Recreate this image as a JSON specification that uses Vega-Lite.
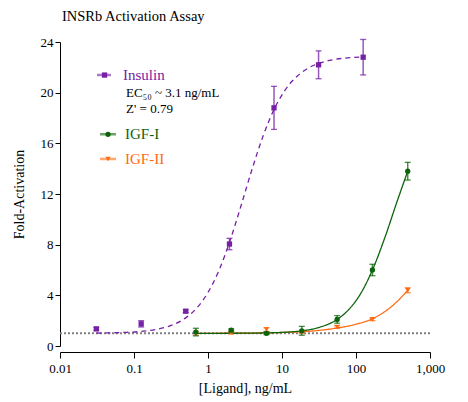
{
  "$schema": "https://vega.github.io/schema/vega-lite/v6.json",
  "autosize": "none",
  "width": 370,
  "height": 304,
  "padding": {"left": 60, "top": 42, "right": 38, "bottom": 56},
  "title": {"text": "INSRb Activation Assay", "anchor": "start", "frame": "group", "font": "Liberation Serif", "fontSize": 14.5, "fontWeight": "normal", "color": "#000000", "offset": 12, "dx": 2},
  "config": {
    "view": {"stroke": null},
    "font": "Liberation Serif",
    "axis": {"labelFont": "Liberation Serif", "titleFont": "Liberation Serif", "labelColor": "#000", "titleColor": "#000", "tickColor": "#000", "domainColor": "#000", "titleFontWeight": "normal", "grid": false},
    "text": {"font": "Liberation Serif"}
  },
  "datasets": {
    "pts": [
      {"series": "Insulin", "conc": 0.031, "fold": 1.35, "err": 0.12},
      {"series": "Insulin", "conc": 0.125, "fold": 1.75, "err": 0.25},
      {"series": "Insulin", "conc": 0.5, "fold": 2.75, "err": 0.12},
      {"series": "Insulin", "conc": 1.95, "fold": 8.05, "err": 0.45},
      {"series": "Insulin", "conc": 7.8, "fold": 18.8, "err": 1.7},
      {"series": "Insulin", "conc": 31.2, "fold": 22.2, "err": 1.1},
      {"series": "Insulin", "conc": 125, "fold": 22.8, "err": 1.4},
      {"series": "IGF-II", "conc": 0.686, "fold": 1.0, "err": 0.15},
      {"series": "IGF-II", "conc": 2.06, "fold": 1.05, "err": 0.1},
      {"series": "IGF-II", "conc": 6.17, "fold": 1.3, "err": 0.15},
      {"series": "IGF-II", "conc": 18.5, "fold": 1.1, "err": 0.1},
      {"series": "IGF-II", "conc": 55.6, "fold": 1.5, "err": 0.1},
      {"series": "IGF-II", "conc": 166.7, "fold": 2.1, "err": 0.1},
      {"series": "IGF-II", "conc": 500, "fold": 4.4, "err": 0.2},
      {"series": "IGF-I", "conc": 0.686, "fold": 1.1, "err": 0.3},
      {"series": "IGF-I", "conc": 2.06, "fold": 1.25, "err": 0.1},
      {"series": "IGF-I", "conc": 6.17, "fold": 1.0, "err": 0.1},
      {"series": "IGF-I", "conc": 18.5, "fold": 1.2, "err": 0.35},
      {"series": "IGF-I", "conc": 55.6, "fold": 2.1, "err": 0.3},
      {"series": "IGF-I", "conc": 166.7, "fold": 6.0, "err": 0.45},
      {"series": "IGF-I", "conc": 500, "fold": 13.8, "err": 0.7}
    ],
    "curves": [
      {"series": "Insulin", "conc": 0.031, "fold": 1.02},
      {"series": "Insulin", "conc": 0.05, "fold": 1.04},
      {"series": "Insulin", "conc": 0.08, "fold": 1.08},
      {"series": "Insulin", "conc": 0.125, "fold": 1.15},
      {"series": "Insulin", "conc": 0.2, "fold": 1.31},
      {"series": "Insulin", "conc": 0.3, "fold": 1.57},
      {"series": "Insulin", "conc": 0.5, "fold": 2.22},
      {"series": "Insulin", "conc": 0.7, "fold": 2.98},
      {"series": "Insulin", "conc": 1, "fold": 4.23},
      {"series": "Insulin", "conc": 1.4, "fold": 5.94},
      {"series": "Insulin", "conc": 2, "fold": 8.37},
      {"series": "Insulin", "conc": 2.8, "fold": 11.09},
      {"series": "Insulin", "conc": 4, "fold": 14.08},
      {"series": "Insulin", "conc": 5.6, "fold": 16.64},
      {"series": "Insulin", "conc": 8, "fold": 18.8},
      {"series": "Insulin", "conc": 11, "fold": 20.2},
      {"series": "Insulin", "conc": 16, "fold": 21.3},
      {"series": "Insulin", "conc": 22, "fold": 21.9},
      {"series": "Insulin", "conc": 32, "fold": 22.33},
      {"series": "Insulin", "conc": 45, "fold": 22.56},
      {"series": "Insulin", "conc": 64, "fold": 22.7},
      {"series": "Insulin", "conc": 90, "fold": 22.78},
      {"series": "Insulin", "conc": 125, "fold": 22.83},
      {"series": "IGF-II", "conc": 0.686, "fold": 1.0},
      {"series": "IGF-II", "conc": 2, "fold": 1.01},
      {"series": "IGF-II", "conc": 6.17, "fold": 1.04},
      {"series": "IGF-II", "conc": 10, "fold": 1.07},
      {"series": "IGF-II", "conc": 18.5, "fold": 1.13},
      {"series": "IGF-II", "conc": 30, "fold": 1.22},
      {"series": "IGF-II", "conc": 55.6, "fold": 1.42},
      {"series": "IGF-II", "conc": 100, "fold": 1.72},
      {"series": "IGF-II", "conc": 166.7, "fold": 2.15},
      {"series": "IGF-II", "conc": 250, "fold": 2.75},
      {"series": "IGF-II", "conc": 350, "fold": 3.45},
      {"series": "IGF-II", "conc": 500, "fold": 4.4},
      {"series": "IGF-I", "conc": 0.686, "fold": 1.0},
      {"series": "IGF-I", "conc": 2, "fold": 1.006},
      {"series": "IGF-I", "conc": 4, "fold": 1.017},
      {"series": "IGF-I", "conc": 6.17, "fold": 1.035},
      {"series": "IGF-I", "conc": 10, "fold": 1.075},
      {"series": "IGF-I", "conc": 18.5, "fold": 1.2},
      {"series": "IGF-I", "conc": 30, "fold": 1.43},
      {"series": "IGF-I", "conc": 55.6, "fold": 2.1},
      {"series": "IGF-I", "conc": 80, "fold": 2.88},
      {"series": "IGF-I", "conc": 120, "fold": 4.3},
      {"series": "IGF-I", "conc": 166.7, "fold": 6.0},
      {"series": "IGF-I", "conc": 250, "fold": 8.69},
      {"series": "IGF-I", "conc": 350, "fold": 11.22},
      {"series": "IGF-I", "conc": 500, "fold": 13.8}
    ],
    "legLines": [
      {"series": "Insulin", "conc": 0.0316, "fold": 21.39},
      {"series": "Insulin", "conc": 0.0505, "fold": 21.39},
      {"series": "IGF-I", "conc": 0.0347, "fold": 16.71},
      {"series": "IGF-I", "conc": 0.0571, "fold": 16.71},
      {"series": "IGF-II", "conc": 0.0347, "fold": 14.76},
      {"series": "IGF-II", "conc": 0.0571, "fold": 14.76}
    ],
    "legPts": [
      {"series": "Insulin", "conc": 0.04, "fold": 21.39},
      {"series": "IGF-I", "conc": 0.0446, "fold": 16.71},
      {"series": "IGF-II", "conc": 0.0446, "fold": 14.76}
    ],
    "legText": [
      {"series": "Insulin", "label": "Insulin", "conc": 0.071, "fold": 21.39},
      {"series": "IGF-I", "label": "IGF-I", "conc": 0.0755, "fold": 16.71},
      {"series": "IGF-II", "label": "IGF-II", "conc": 0.0755, "fold": 14.76}
    ],
    "notes": [
      {"label": "EC₅₀ ~ 3.1 ng/mL", "conc": 0.078, "fold": 20.0},
      {"label": "Z' = 0.79", "conc": 0.078, "fold": 18.68}
    ]
  },
  "layer": [
    {
      "mark": {"type": "rule", "color": "#808080", "strokeWidth": 2, "strokeDash": [2, 2]},
      "data": {"values": [{"base": 1}]},
      "encoding": {"y": {"field": "base", "type": "quantitative", "title": "Fold-Activation",
        "scale": {"domain": [0, 24], "nice": false},
        "axis": {"title": "Fold-Activation", "values": [0, 4, 8, 12, 16, 20, 24], "tickSize": 5, "labelFontSize": 13, "titleFontSize": 14, "titlePadding": 14, "labelPadding": 2}}}
    },
    {
      "data": {"name": "curves"},
      "mark": {"type": "line", "interpolate": "monotone", "strokeWidth": 1.3},
      "encoding": {
        "x": {"field": "conc", "type": "quantitative",
              "scale": {"type": "log", "domain": [0.01, 1000], "nice": false},
              "axis": {"title": "[Ligand], ng/mL", "values": [0.01, 0.1, 1, 10, 100, 1000], "format": ",", "offset": 6, "tickSize": 6, "labelFontSize": 13, "titleFontSize": 14, "titlePadding": 6, "labelPadding": 4, "labelFlush": false}},
        "y": {"field": "fold", "type": "quantitative", "title": "Fold-Activation"},
        "color": {"field": "series", "type": "nominal", "scale": {"domain": ["Insulin", "IGF-I", "IGF-II"], "range": ["#7620a6", "#0b640b", "#ff6a13"]}, "legend": null},
        "strokeDash": {"field": "series", "type": "nominal", "scale": {"domain": ["Insulin", "IGF-I", "IGF-II"], "range": [[5, 4], [1, 0], [1, 0]]}, "legend": null},
        "strokeWidth": {"field": "series", "type": "nominal", "scale": {"domain": ["Insulin", "IGF-I", "IGF-II"], "range": [2.2, 1.3, 1.3]}, "legend": null}
      }
    },
    {
      "data": {"name": "pts"},
      "transform": [{"calculate": "datum.fold - datum.err", "as": "lo"}, {"calculate": "datum.fold + datum.err", "as": "hi"}],
      "layer": [
        {
          "mark": {"type": "rule", "strokeWidth": 1.5, "opacity": 0.75},
          "encoding": {
            "x": {"field": "conc", "type": "quantitative", "axis": {"title": null, "values": [0.02,0.03,0.04,0.05,0.06,0.07,0.08,0.09,0.2,0.3,0.4,0.5,0.6,0.7,0.8,0.9,2,3,4,5,6,7,8,9,20,30,40,50,60,70,80,90,200,300,400,500,600,700,800,900], "labels": false, "domain": false, "offset": 6, "tickSize": 3}},
            "y": {"field": "lo", "type": "quantitative", "title": "Fold-Activation"},
            "y2": {"field": "hi"},
            "color": {"field": "series", "type": "nominal", "legend": null}
          }
        },
        {
          "mark": {"type": "tick", "orient": "horizontal", "size": 6, "thickness": 1.3, "opacity": 0.75},
          "encoding": {
            "x": {"field": "conc", "type": "quantitative", "axis": null},
            "y": {"field": "lo", "type": "quantitative", "title": "Fold-Activation"},
            "color": {"field": "series", "type": "nominal", "legend": null}
          }
        },
        {
          "mark": {"type": "tick", "orient": "horizontal", "size": 6, "thickness": 1.3, "opacity": 0.75},
          "encoding": {
            "x": {"field": "conc", "type": "quantitative", "axis": null},
            "y": {"field": "hi", "type": "quantitative", "title": "Fold-Activation"},
            "color": {"field": "series", "type": "nominal", "legend": null}
          }
        },
        {
          "mark": {"type": "point", "filled": true, "opacity": 1, "size": 28},
          "encoding": {
            "x": {"field": "conc", "type": "quantitative", "axis": null},
            "y": {"field": "fold", "type": "quantitative", "title": "Fold-Activation"},
            "color": {"field": "series", "type": "nominal", "legend": null},
            "shape": {"field": "series", "type": "nominal", "scale": {"domain": ["Insulin", "IGF-I", "IGF-II"], "range": ["square", "circle", "triangle-down"]}, "legend": null}
          }
        }
      ]
    },
    {
      "data": {"name": "legLines"},
      "mark": {"type": "line", "opacity": 0.6},
      "encoding": {
        "x": {"field": "conc", "type": "quantitative", "axis": null},
        "y": {"field": "fold", "type": "quantitative", "title": "Fold-Activation"},
        "detail": {"field": "series"},
        "color": {"field": "series", "type": "nominal", "legend": null},
        "strokeDash": {"field": "series", "type": "nominal", "legend": null},
        "strokeWidth": {"value": 2.5}
      }
    },
    {
      "data": {"name": "legPts"},
      "mark": {"type": "point", "filled": true, "opacity": 1, "size": 28},
      "encoding": {
        "x": {"field": "conc", "type": "quantitative", "axis": null},
        "y": {"field": "fold", "type": "quantitative", "title": "Fold-Activation"},
        "color": {"field": "series", "type": "nominal", "legend": null},
        "shape": {"field": "series", "type": "nominal", "legend": null}
      }
    },
    {
      "data": {"name": "legText"},
      "mark": {"type": "text", "align": "left", "baseline": "middle", "fontSize": 15, "font": "Liberation Serif"},
      "encoding": {
        "x": {"field": "conc", "type": "quantitative", "axis": null},
        "y": {"field": "fold", "type": "quantitative", "title": "Fold-Activation"},
        "text": {"field": "label"},
        "color": {"field": "series", "type": "nominal", "legend": null}
      }
    },
    {
      "data": {"name": "notes"},
      "mark": {"type": "text", "align": "left", "baseline": "middle", "fontSize": 13, "font": "Liberation Serif", "color": "#000"},
      "encoding": {
        "x": {"field": "conc", "type": "quantitative", "axis": null},
        "y": {"field": "fold", "type": "quantitative", "title": "Fold-Activation"},
        "text": {"field": "label"}
      }
    }
  ],
  "resolve": {"axis": {"x": "independent"}}
}
